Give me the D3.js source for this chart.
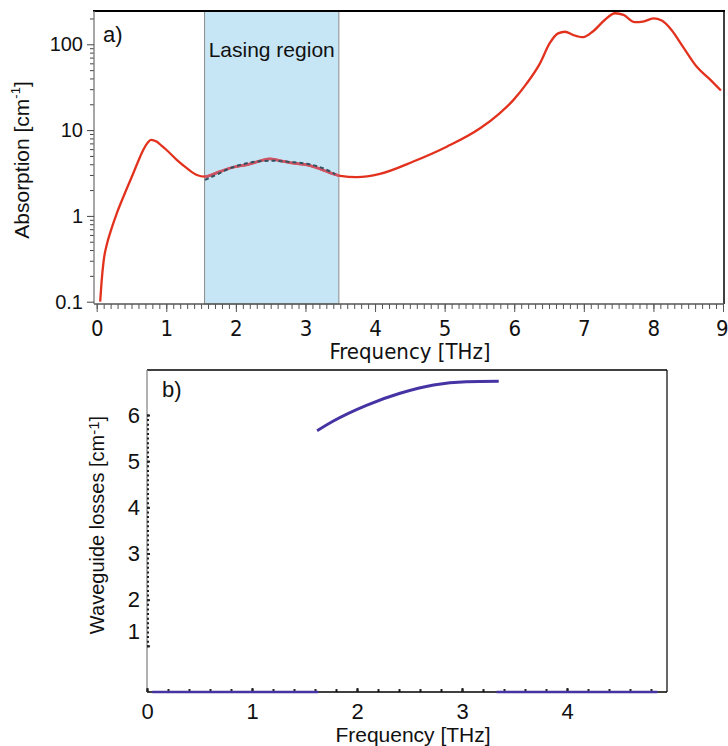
<!DOCTYPE html>
<html>
<head>
<meta charset="utf-8">
<script src="https://cdn.jsdelivr.net/npm/d3@7"></script>
<style>
  body { margin: 0; background: #fff; }
  svg { display: block; }
  text { font-family: "Liberation Sans", Arial, sans-serif; fill: #111; }
  .cond { font-family: "Liberation Sans Narrow", "DejaVu Sans Condensed", "Liberation Sans", sans-serif; font-stretch: condensed; }
</style>
</head>
<body>
<svg id="chart" width="728" height="746"></svg>
<script>
// panel a) absorption spectrum
const absFreq = [0.05, 0.07, 0.10, 0.15, 0.20, 0.29, 0.40, 0.50, 0.60, 0.67, 0.73, 0.78, 0.86, 0.93, 1.00,
  1.15, 1.29, 1.44, 1.55, 1.77, 1.96, 2.15, 2.35, 2.49, 2.63, 2.82, 3.02, 3.21, 3.40, 3.50, 3.74, 4.07,
  4.55, 5.03, 5.51, 5.79, 5.99, 6.18, 6.37, 6.51, 6.63, 6.73, 6.85, 6.99, 7.13, 7.30, 7.45, 7.57, 7.73,
  7.85, 8.00, 8.12, 8.26, 8.43, 8.62, 8.82, 8.97];
const absValues = [0.10, 0.17, 0.30, 0.48, 0.66, 1.08, 1.8, 2.8, 4.4, 5.9, 7.1, 7.7, 7.35, 6.6, 5.9,
  4.5, 3.63, 3.0, 2.87, 3.28, 3.69, 3.93, 4.37, 4.62, 4.41, 4.11, 3.93, 3.53, 3.09, 2.93, 2.83, 3.09,
  4.3, 6.4, 10.5, 15.7, 22.5, 35, 60, 103, 134, 140, 128, 121, 141, 192, 230, 220, 181,
  184, 200, 189, 147, 92, 55, 38.5, 28.9];
// dashed fit inside the lasing region
const fitFreq = [1.556, 1.75, 1.9, 2.1, 2.3, 2.53, 2.78, 3.02, 3.21, 3.43];
const fitValues = [2.63, 3.1, 3.55, 4.0, 4.3, 4.4, 4.25, 4.05, 3.7, 3.06];
const lasingBand = [1.55, 3.48];
const topXTicks = [0, 1, 2, 3, 4, 5, 6, 7, 8, 9];
const topYTicks = [0.1, 1, 10, 100];

// panel b) waveguide losses
const lossFreq = [1.62, 1.775, 2.09, 2.41, 2.73, 3.04, 3.35];
const lossValues = [5.66, 5.87, 6.21, 6.47, 6.65, 6.72, 6.73];
const zeroBands = [[0.05, 1.63], [3.33, 4.86]];
const botXTicks = [0, 1, 2, 3, 4];
const botYTicks = [1, 2, 3, 4, 5, 6];

const svg = d3.select("#chart");
const red = "#e2311d", purple = "#4634a4";

// ---------- panel a ----------
const xa = d3.scaleLinear().domain([0, 9]).range([96.7, 723]);
const ya = d3.scaleLog().domain([0.1, 100]).range([301.7, 44.3]);
const aTop = 11, aBottom = 304, aLeft = 94, aRight = 724;

svg.append("rect")
  .attr("x", xa(lasingBand[0])).attr("y", aTop)
  .attr("width", xa(lasingBand[1]) - xa(lasingBand[0]))
  .attr("height", aBottom - aTop)
  .attr("fill", "#c6e6f6")
  .attr("stroke", "#8a8a8a").attr("stroke-width", 1);

svg.append("text")
  .attr("x", (xa(lasingBand[0]) + xa(lasingBand[1])) / 2).attr("y", 57)
  .attr("text-anchor", "middle").attr("font-size", 21)
  .text("Lasing region");

const lineA = d3.line().x((d, i) => xa(absFreq[i])).y(d => ya(d)).curve(d3.curveMonotoneX);

svg.append("clipPath").attr("id", "band")
  .append("rect")
  .attr("x", xa(lasingBand[0])).attr("y", aTop)
  .attr("width", xa(lasingBand[1]) - xa(lasingBand[0])).attr("height", aBottom - aTop);

svg.append("path").datum(absValues)
  .attr("d", lineA).attr("fill", "none")
  .attr("stroke", red).attr("stroke-width", 2.3);

// inside the band the curve looks pink
svg.append("path").datum(absValues)
  .attr("d", lineA).attr("fill", "none")
  .attr("clip-path", "url(#band)")
  .attr("stroke", "#cf5566").attr("stroke-width", 2.8);

svg.append("path").datum(fitValues)
  .attr("d", d3.line().x((d, i) => xa(fitFreq[i])).y(d => ya(d)).curve(d3.curveMonotoneX))
  .attr("fill", "none").attr("stroke", "#33505f")
  .attr("stroke-width", 2).attr("stroke-dasharray", "4,3");

// frame
svg.append("line").attr("x1", aLeft - 1).attr("x2", aRight + 1).attr("y1", aTop).attr("y2", aTop)
  .attr("stroke", "#000").attr("stroke-width", 2);
svg.append("line").attr("x1", aRight).attr("x2", aRight).attr("y1", aTop).attr("y2", aBottom)
  .attr("stroke", "#000").attr("stroke-width", 1.5);

// x axis a
const gxa = svg.append("g").attr("transform", `translate(0,${aBottom})`);
gxa.call(d3.axisBottom(xa).tickValues(d3.range(0, 90.5, 1).map(v => v / 10)).tickSize(5).tickFormat(""));
gxa.call(g => g.select(".domain").remove());
const gxa2 = svg.append("g").attr("transform", `translate(0,${aBottom})`)
  .call(d3.axisBottom(xa).tickValues(topXTicks).tickSize(8).tickSizeOuter(0).tickPadding(8).tickFormat(d3.format("d")));
gxa2.select(".domain").attr("d", `M${aLeft},0H${aRight}`).attr("stroke", "#555").attr("stroke-width", 1.3);
svg.selectAll("g line").attr("stroke", "#555");
gxa2.selectAll("text").attr("class", "cond").attr("font-size", 22).attr("fill", "#111");
// keep the last label inside the page
gxa2.selectAll(".tick").filter(d => d === 9).select("text").attr("text-anchor", "end").attr("x", 5);

svg.append("text").attr("x", 410).attr("y", 359)
  .attr("text-anchor", "middle").attr("font-size", 22).attr("class", "cond")
  .text("Frequency [THz]");

// y axis a (log)
const minorA = [];
topYTicks.forEach(dec => { for (let k = 2; k <= 9; k++) if (dec * k <= 245) minorA.push(dec * k); });
const gya = svg.append("g").attr("transform", `translate(${aLeft},0)`);
gya.call(d3.axisLeft(ya).tickValues(minorA).tickSize(4).tickFormat(""));
gya.select(".domain").remove();
const gya2 = svg.append("g").attr("transform", `translate(${aLeft},0)`)
  .call(d3.axisLeft(ya).tickValues(topYTicks).tickSize(7).tickSizeOuter(0).tickPadding(4).tickFormat(d => String(d)));
gya2.select(".domain").attr("d", `M0,${aTop}V${aBottom}`).attr("stroke", "#777").attr("stroke-width", 1.3);
gya.selectAll("line").attr("stroke", "#444");
gya2.selectAll("line").attr("stroke", "#444");
gya2.selectAll("text").attr("font-size", 20).attr("fill", "#111");

const ylabA = svg.append("text")
  .attr("transform", "translate(29,160) rotate(-90)")
  .attr("text-anchor", "middle").attr("font-size", 21);
ylabA.append("tspan").text("Absorption [cm");
ylabA.append("tspan").attr("font-size", 13).attr("dy", -9).text("-1");
ylabA.append("tspan").attr("dy", 9).text("]");

svg.append("text").attr("x", 103).attr("y", 42).attr("font-size", 22).text("a)");

// ---------- panel b ----------
const xb = d3.scaleLinear().domain([0, 4]).range([147, 567]);
const yb = d3.scaleLinear().domain([0, 6]).range([692, 415]);
const bTop = 370, bBottom = 692, bLeft = 147, bRight = 667;

svg.append("line").attr("x1", bLeft).attr("x2", bRight).attr("y1", bTop).attr("y2", bTop)
  .attr("stroke", "#000").attr("stroke-width", 1.3);
svg.append("line").attr("x1", bRight).attr("x2", bRight).attr("y1", bTop).attr("y2", bBottom)
  .attr("stroke", "#000").attr("stroke-width", 1.2);
svg.append("line").attr("x1", bLeft).attr("x2", bLeft).attr("y1", bTop).attr("y2", bBottom)
  .attr("stroke", "#888").attr("stroke-width", 1.3);

// x axis b
const gxb = svg.append("g").attr("transform", `translate(0,${bBottom})`);
gxb.call(d3.axisBottom(xb).tickValues(d3.range(0, 25, 1).map(v => v / 5)).tickSize(-3).tickFormat(""));
gxb.select(".domain").remove();
gxb.selectAll("line").attr("stroke", "#222").attr("stroke-width", 2);
const gxb2 = svg.append("g").attr("transform", `translate(0,${bBottom})`)
  .call(d3.axisBottom(xb).tickValues(botXTicks).tickSize(-4).tickSizeOuter(0).tickPadding(11).tickFormat(d3.format("d")));
gxb2.select(".domain").attr("d", `M${bLeft},0H${bRight}`).attr("stroke", "#000").attr("stroke-width", 1.3);
gxb2.selectAll("line").attr("stroke", "#222").attr("stroke-width", 2);
gxb2.selectAll("text").attr("font-size", 22).attr("fill", "#111");

svg.append("text").attr("x", 413).attr("y", 742)
  .attr("text-anchor", "middle").attr("font-size", 21)
  .text("Frequency [THz]");

// y axis b
const gyb = svg.append("g").attr("transform", `translate(${bLeft},0)`);
gyb.call(d3.axisLeft(yb).tickValues(d3.range(10, 61, 1).map(v => v / 10)).tickSize(-2).tickFormat(""));
gyb.select(".domain").remove();
gyb.selectAll("line").attr("stroke", "#222").attr("stroke-width", 2);
const gyb2 = svg.append("g").attr("transform", `translate(${bLeft},0)`)
  .call(d3.axisLeft(yb).tickValues(botYTicks).tickSize(-3).tickSizeOuter(0).tickPadding(7).tickFormat(d3.format("d")));
gyb2.select(".domain").remove();
gyb2.selectAll("line").attr("stroke", "#222").attr("stroke-width", 2);
gyb2.selectAll("text").attr("font-size", 22).attr("fill", "#111");
// the "1" label sits a little high in the original
gyb2.selectAll(".tick").filter(d => d === 1).select("text").attr("y", -14);

const ylabB = svg.append("text")
  .attr("transform", "translate(104,525) rotate(-90)")
  .attr("text-anchor", "middle").attr("font-size", 20);
ylabB.append("tspan").text("Waveguide losses [cm");
ylabB.append("tspan").attr("font-size", 15).attr("dy", -5).text("-1");
ylabB.append("tspan").attr("dy", 5).text("]");

svg.append("text").attr("x", 162).attr("y", 397).attr("font-size", 22).text("b)");

// data
svg.selectAll(".zero").data(zeroBands).join("line")
  .attr("class", "zero")
  .attr("x1", d => xb(d[0])).attr("x2", d => xb(d[1]))
  .attr("y1", yb(0)).attr("y2", yb(0))
  .attr("stroke", purple).attr("stroke-width", 2.5);

svg.append("path").datum(lossValues)
  .attr("d", d3.line().x((d, i) => xb(lossFreq[i])).y(d => yb(d)).curve(d3.curveMonotoneX))
  .attr("fill", "none").attr("stroke", purple).attr("stroke-width", 3);
</script>
</body>
</html>
